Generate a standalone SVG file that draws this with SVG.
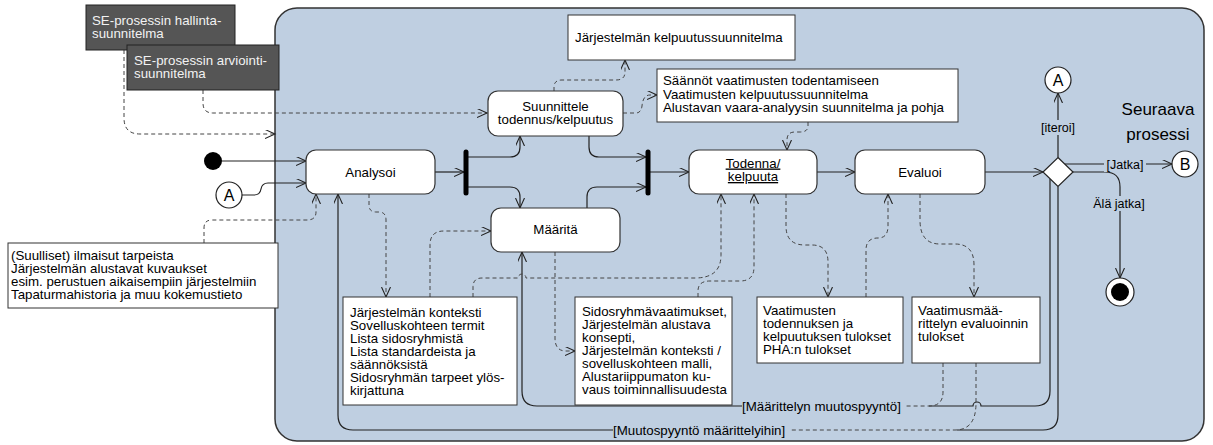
<svg xmlns="http://www.w3.org/2000/svg" width="1213" height="445" viewBox="0 0 1213 445">
<defs>
<style>
text{font-family:"Liberation Sans",Arial,sans-serif;font-size:13.3px;fill:#000}
.act{fill:#fff;stroke:#333;stroke-width:1.2}
.obj{fill:#fff;stroke:#333;stroke-width:1}
.dark{fill:#555;stroke:#222;stroke-width:1}
.dtxt{fill:#f2f2f2}
.flow{fill:none;stroke:#222;stroke-width:1.2}
.dash{fill:none;stroke:#444;stroke-width:1;stroke-dasharray:4 3}
.bar{stroke:#000;stroke-width:5;stroke-linecap:round}
.lblbg{fill:#bfcfe1}
.mid{text-anchor:middle}
</style>
<marker id="ar" markerWidth="12" markerHeight="10" refX="10" refY="4.5" orient="auto" markerUnits="userSpaceOnUse">
<path d="M0,0 L10,4.5 L0,9" fill="none" stroke="#222" stroke-width="1.1" stroke-dasharray="none"/>
</marker>
</defs>
<rect width="1213" height="445" fill="#fff"/>
<!-- container -->
<rect id="container" x="275" y="8" width="929" height="433" rx="22" fill="#bfcfe1" stroke="#333" stroke-width="1.5"/>

<!-- connectors -->
<g id="connectors">
<path class="flow" d="M222,161 H306" marker-end="url(#ar)"/>
<path class="flow" d="M242,195 H254 Q260,195 261,189 Q262,183 268,183 H306" marker-end="url(#ar)"/>
<path class="flow" d="M435,172 H464" marker-end="url(#ar)"/>
<path class="flow" d="M468,157 H510 Q520,157 520,147 V136" marker-end="url(#ar)"/>
<path class="flow" d="M468,187 H510 Q520,187 520,197 V208" marker-end="url(#ar)"/>
<path class="flow" d="M589,136 V147 Q589,157 599,157 H646" marker-end="url(#ar)"/>
<path class="flow" d="M587,208 V197 Q587,187 597,187 H646" marker-end="url(#ar)"/>
<path class="flow" d="M650,172 H689" marker-end="url(#ar)"/>
<path class="flow" d="M817,172 H855" marker-end="url(#ar)"/>
<path class="flow" d="M985,172 H1043" marker-end="url(#ar)"/>
<path class="flow" d="M1058,157.5 V93" marker-end="url(#ar)"/>
<path class="flow" d="M1065,164 H1172" marker-end="url(#ar)"/>
<path class="flow" d="M1073,172 H1105 Q1120,172 1120,187 V278" marker-end="url(#ar)"/>
<!-- outer loop -->
<path class="flow" d="M1058,186.5 V415 Q1058,430 1043,430 H957"/>
<path class="flow" d="M613,430 H353 Q338,430 338,415 V194" marker-end="url(#ar)"/>
<!-- inner loop -->
<path class="flow" d="M1050,179 V391 Q1050,406 1035,406 H981 A4,4 0 0 0 973,406 H929"/>
<path class="flow" d="M742,406 H537 Q522,406 522,391 V252" marker-end="url(#ar)"/>

<!-- dashed object flows -->
<path class="dash" d="M124,50 V118 Q124,134 140,134 H275" marker-end="url(#ar)"/>
<path class="dash" d="M203,90 V103 Q203,113 213,113 H487" marker-end="url(#ar)"/>
<path class="dash" d="M554,91 V87 Q554,80 562,80 H616 Q625,80 625,72 V60" marker-end="url(#ar)"/>
<path class="dash" d="M623,113 H636 Q641,113 642,106 Q643,95 650,95 H657" marker-end="url(#ar)"/>
<path class="dash" d="M808,122 V126 Q808,132 800,132 H795 Q787,132 787,140 V150" marker-end="url(#ar)"/>
<path class="dash" d="M204,243 V228 Q204,220 212,220 H307 Q316,220 316,212 V194" marker-end="url(#ar)"/>
<path class="dash" d="M369,194 V205 Q369,212 376,212 H379 Q386,212 386,220 V297" marker-end="url(#ar)"/>
<path class="dash" d="M430,297 V245 Q430,231 444,231 H491" marker-end="url(#ar)"/>
<path class="dash" d="M473,297 V287 Q473,278 482,278 H518 A4,4 0 0 1 526,278 H695 Q721,278 721,255 V194" marker-end="url(#ar)"/>
<path class="dash" d="M698,297 V291 Q698,281 710,281 H740 Q754,281 754,267 V194" marker-end="url(#ar)"/>
<path class="dash" d="M555,252 V338 Q555,351 566,351 H575" marker-end="url(#ar)"/>
<path class="dash" d="M786,194 V226 Q786,245 805,245 H812 Q828,245 828,262 V297" marker-end="url(#ar)"/>
<path class="dash" d="M866,297 V250 Q866,238 878,238 Q888,238 888,226 V194" marker-end="url(#ar)"/>
<path class="dash" d="M920,194 V220 Q920,244 940,244 H955 Q974,244 974,265 V297" marker-end="url(#ar)"/>
<path class="dash" d="M943,363 V392 Q943,406 929,406 H905"/>
<path class="dash" d="M976,363 V403 Q976,430 955,430 H790"/>

<!-- labels -->
<rect class="lblbg" x="1037" y="120" width="42" height="15"/>
<text class="mid" x="1058" y="131.5" style="font-size:12.5px">[iteroi]</text>
<rect class="lblbg" x="1104" y="157" width="42" height="15"/>
<text class="mid" x="1125" y="168.5" style="font-size:12.5px">[Jatka]</text>
<rect class="lblbg" x="1089" y="196" width="60" height="15"/>
<text class="mid" x="1119" y="207.5" style="font-size:12.5px">Älä jatka]</text>
<rect class="lblbg" x="742" y="399" width="163" height="15"/>
<text x="742" y="410.5">[Määrittelyn muutospyyntö]</text>
<rect class="lblbg" x="613" y="423" width="177" height="15"/>
<text x="613" y="434.5">[Muutospyyntö määrittelyihin]</text>
</g>

<!-- external plan notes -->
<g id="se-hallinta">
<rect class="dark" x="86" y="5" width="149" height="45"/>
<text class="dtxt" x="92" y="24.5">SE-prosessin hallinta-<tspan x="92" dy="13">suunnitelma</tspan></text>
</g>
<g id="se-arviointi">
<rect class="dark" x="127" y="45" width="152" height="45"/>
<text class="dtxt" x="134" y="64.5">SE-prosessin arviointi-<tspan x="134" dy="13">suunnitelma</tspan></text>
</g>

<g id="start">
<circle cx="213" cy="161" r="9" fill="#000"/>
</g>
<g id="connector-a-in">
<circle cx="229" cy="195" r="13" fill="#fff" stroke="#222" stroke-width="1.2"/>
<text class="mid" x="229" y="201" style="font-size:16px">A</text>
</g>

<g id="input-note">
<rect class="obj" x="8" y="243" width="270" height="65"/>
<text x="11" y="259.5">(Suulliset) ilmaisut tarpeista<tspan x="11" dy="13">Järjestelmän alustavat kuvaukset</tspan><tspan x="11" dy="13">esim. perustuen aikaisempiin järjestelmiin</tspan><tspan x="11" dy="13">Tapaturmahistoria ja muu kokemustieto</tspan></text>
</g>

<g id="analysoi">
<rect class="act" x="306" y="150" width="129" height="44" rx="10"/>
<text class="mid" x="370.5" y="176.5">Analysoi</text>
</g>

<g id="fork1"><line class="bar" x1="466" y1="152" x2="466" y2="193"/></g>
<g id="join2"><line class="bar" x1="648" y1="152" x2="648" y2="193"/></g>

<g id="suunnittele">
<rect class="act" x="488" y="91" width="135" height="45" rx="10"/>
<text class="mid" x="555.5" y="111">Suunnittele<tspan x="555.5" dy="13">todennus/kelpuutus</tspan></text>
</g>

<g id="maarita">
<rect class="act" x="491" y="208" width="129" height="44" rx="10"/>
<text class="mid" x="555.5" y="234">Määritä</text>
</g>

<g id="todenna">
<rect class="act" x="689" y="150" width="128" height="44" rx="10"/>
<text class="mid" x="753" y="167.5" text-decoration="underline">Todenna/</text>
<text class="mid" x="753" y="181" text-decoration="underline">kelpuuta</text>
</g>

<g id="evaluoi">
<rect class="act" x="855" y="150" width="130" height="44" rx="10"/>
<text class="mid" x="920" y="176.5">Evaluoi</text>
</g>

<g id="kelpuutussuunnitelma">
<rect class="obj" x="568" y="15" width="227" height="45"/>
<text x="575" y="42">Järjestelmän kelpuutussuunnitelma</text>
</g>

<g id="saannot">
<rect class="obj" x="657" y="69" width="301" height="53"/>
<text x="663" y="85">Säännöt vaatimusten todentamiseen<tspan x="663" dy="13.5">Vaatimusten kelpuutussuunnitelma</tspan><tspan x="663" dy="13.5">Alustavan vaara-analyysin suunnitelma ja pohja</tspan></text>
</g>

<g id="konteksti">
<rect class="obj" x="343" y="297" width="174" height="108"/>
<text x="350" y="316.5">Järjestelmän konteksti<tspan x="350" dy="13">Sovelluskohteen termit</tspan><tspan x="350" dy="13">Lista sidosryhmistä</tspan><tspan x="350" dy="13">Lista standardeista ja</tspan><tspan x="350" dy="13">säännöksistä</tspan><tspan x="350" dy="13">Sidosryhmän tarpeet ylös-</tspan><tspan x="350" dy="13">kirjattuna</tspan></text>
</g>

<g id="sidosryhmavaatimukset">
<rect class="obj" x="575" y="297" width="157" height="108"/>
<text x="582" y="316">Sidosryhmävaatimukset,<tspan x="582" dy="13">Järjestelmän alustava</tspan><tspan x="582" dy="13">konsepti,</tspan><tspan x="582" dy="13">Järjestelmän konteksti /</tspan><tspan x="582" dy="13">sovelluskohteen malli,</tspan><tspan x="582" dy="13">Alustariippumaton ku-</tspan><tspan x="582" dy="13">vaus toiminnallisuudesta</tspan></text>
</g>

<g id="todennustulokset">
<rect class="obj" x="757" y="297" width="146" height="66"/>
<text x="763" y="314.5">Vaatimusten<tspan x="763" dy="13.2">todennuksen ja</tspan><tspan x="763" dy="13.2">kelpuutuksen tulokset</tspan><tspan x="763" dy="13.2">PHA:n tulokset</tspan></text>
</g>

<g id="evaluointitulokset">
<rect class="obj" x="912" y="297" width="128" height="66"/>
<text x="918" y="314.5">Vaatimusmää-<tspan x="918" dy="13.2">rittelyn evaluoinnin</tspan><tspan x="918" dy="13.2">tulokset</tspan></text>
</g>

<g id="decision">
<polygon points="1058,157.5 1073,172 1058,186.5 1043,172" fill="#fff" stroke="#222" stroke-width="1.2"/>
</g>

<g id="connector-a-out">
<circle cx="1058" cy="80" r="13" fill="#fff" stroke="#222" stroke-width="1.2"/>
<text class="mid" x="1058" y="86" style="font-size:16px">A</text>
</g>

<g id="connector-b">
<circle cx="1185" cy="164" r="13" fill="#fff" stroke="#222" stroke-width="1.2"/>
<text class="mid" x="1185" y="170" style="font-size:16px">B</text>
</g>

<g id="next-process">
<text class="mid" x="1158" y="115" style="font-size:17px">Seuraava</text>
<text class="mid" x="1158" y="140" style="font-size:17px">prosessi</text>
</g>

<g id="final">
<circle cx="1120" cy="292" r="14" fill="#fff" stroke="#222" stroke-width="1.2"/>
<circle cx="1120" cy="292" r="9" fill="#000"/>
</g>
</svg>
